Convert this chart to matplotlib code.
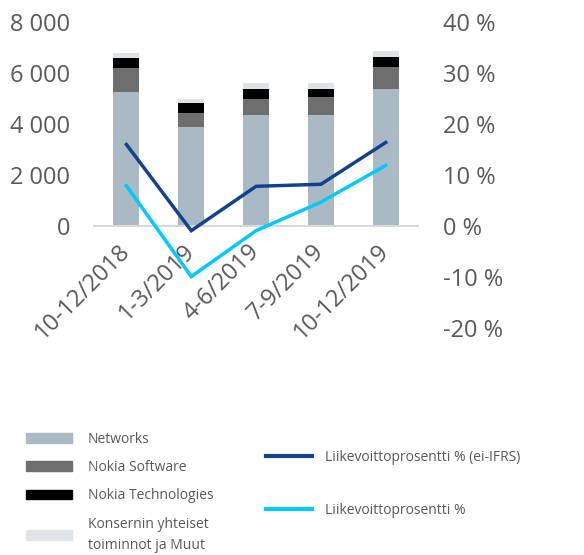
import matplotlib.pyplot as plt
from matplotlib.patches import Patch
from matplotlib.lines import Line2D
import numpy as np

plt.rcParams['font.family'] = ['Open Sans', 'DejaVu Sans']

quarters = ['10-12/2018', '1-3/2019', '4-6/2019', '7-9/2019', '10-12/2019']

# net sales, EUR million
networks = [5250, 3880, 4375, 4375, 5390]
software = [950, 570, 625, 700, 870]
technologies = [380, 380, 380, 300, 380]
group_other = [230, 155, 250, 250, 230]

# operating margin, %
margin_non_ifrs = [16.0, -0.9, 7.8, 8.2, 16.4]
margin_reported = [7.9, -9.9, -0.9, 4.7, 11.9]

left_ticks = [0, 2000, 4000, 6000, 8000]
left_labels = ['0', '2 000', '4 000', '6 000', '8 000']
right_ticks = [-20, -10, 0, 10, 20, 30, 40]
right_labels = ['%d %%' % t for t in right_ticks]

text_color = '#595959'
c_networks = '#a9bac4'
c_software = '#6e6e6e'
c_tech = '#000000'
c_group = '#dfe3e6'
c_dark = '#124191'
c_light = '#00c9ff'

fig = plt.figure(figsize=(5.84, 5.55), dpi=100)
ax = fig.add_axes([0.161, 0.409, 0.555, 0.551])
ax2 = ax.twinx()

x = np.arange(len(quarters))
w = 0.4
b = np.zeros(len(quarters))
for vals, col in [(networks, c_networks), (software, c_software),
                  (technologies, c_tech), (group_other, c_group)]:
    ax.bar(x, vals, w, bottom=b, color=col, zorder=2)
    b += np.array(vals)

ax2.plot(x, margin_non_ifrs, color=c_dark, lw=2.5, solid_joinstyle='miter')
ax2.plot(x, margin_reported, color=c_light, lw=2.5, solid_joinstyle='miter')

ax.set_xlim(-0.5, len(quarters) - 0.5)
ax.set_ylim(-4000, 8000)
ax2.set_ylim(-20, 40)

for a in (ax, ax2):
    for s in a.spines.values():
        s.set_visible(False)
ax.spines['bottom'].set_visible(True)
ax.spines['bottom'].set_position(('data', 0))
ax.spines['bottom'].set_color('#d9d9d9')
ax.spines['bottom'].set_linewidth(1.5)

ax.tick_params(axis='y', length=0, pad=17, labelsize=17, labelcolor=text_color)
ax.tick_params(axis='x', length=0, pad=16, labelsize=17, labelcolor=text_color,
               labelrotation=45)
ax2.tick_params(axis='y', length=0, pad=18, labelsize=17, labelcolor=text_color)

ax.set_yticks(left_ticks)
ax.set_yticklabels(left_labels)
ax2.set_yticks(right_ticks)
ax2.set_yticklabels(right_labels)

ax.set_xticks(x)
ax.set_xticklabels(quarters)
for lbl in ax.get_xticklabels():
    lbl.set_rotation(45)
    lbl.set_ha('right')
    lbl.set_va('center')
    lbl.set_rotation_mode('anchor')

bar_handles = [Patch(color=c_networks), Patch(color=c_software),
               Patch(color=c_tech), Patch(color=c_group)]
bar_labels = ['Networks', 'Nokia Software', 'Nokia Technologies',
              'Konsernin yhteiset\ntoiminnot ja Muut']
leg1 = fig.legend(bar_handles, bar_labels, loc='upper left',
                  bbox_to_anchor=(26 / 584, 1 - 432 / 555), frameon=False,
                  fontsize=10, labelcolor=text_color, handlelength=3.3,
                  handleheight=0.7, handletextpad=1.15, labelspacing=0.95,
                  borderpad=0, borderaxespad=0)
leg1.get_texts()[3].set_linespacing(1.55)

line_handles = [Line2D([], [], color=c_dark, lw=3),
                Line2D([], [], color=c_light, lw=3)]
line_labels = ['Liikevoittoprosentti % (ei-IFRS)', 'Liikevoittoprosentti %']
fig.legend(line_handles, line_labels, loc='upper left',
           bbox_to_anchor=(266 / 584, 1 - 450 / 555), frameon=False,
           fontsize=10, labelcolor=text_color, handlelength=3.3,
           handletextpad=0.95, labelspacing=2.75,
           borderpad=0, borderaxespad=0)

fig.savefig('out.png', dpi=100)
